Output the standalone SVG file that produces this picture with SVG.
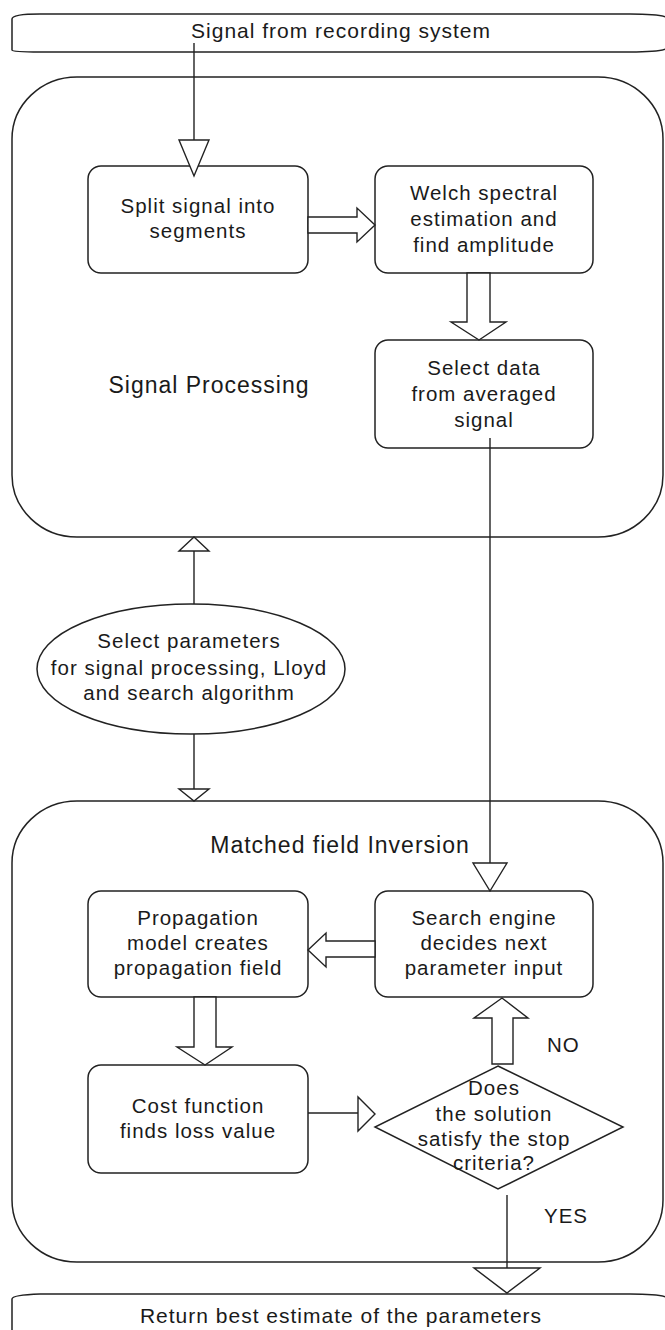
<svg xmlns="http://www.w3.org/2000/svg" width="665" height="1330" viewBox="0 0 665 1330">
<style>
.shape{fill:#fff;stroke:#222;stroke-width:1.5}
.cont{fill:none;stroke:#222;stroke-width:1.5}
.ln{fill:none;stroke:#222;stroke-width:1.4}
.hd{fill:#fff;stroke:#222;stroke-width:1.4}
text{font-family:"Liberation Sans",Arial,sans-serif;font-size:20.5px;fill:#1a1a1a;letter-spacing:1px;text-anchor:middle}
.title{font-size:23px}
.ban{font-size:21px}
.lbl{text-anchor:start}
</style>
<rect width="665" height="1330" fill="#fff"/>
<g id="top-banner">
<path class="shape" d="M12,50 L12,19 Q12,14 40,14 L630,14 Q662,14 668,18 L668,48 Q662,52 630,52 L40,52 Q12,52 12,50 Z"/>
<text class="ban" x="341" y="38">Signal from recording system</text>
</g>
<g id="signal-processing">
<rect class="cont" x="12" y="77" width="651" height="460" rx="65" ry="62"/>
<text class="title" x="209" y="393">Signal Processing</text>
</g>
<g id="matched-field-inversion">
<rect class="cont" x="12" y="801" width="651" height="461" rx="65" ry="62"/>
<text class="title" x="340" y="853">Matched field Inversion</text>
</g>
<g id="split">
<rect class="shape" x="88" y="166" width="220" height="107" rx="13"/>
<text x="198" y="213">Split signal into</text>
<text x="198" y="238">segments</text>
</g>
<g id="welch">
<rect class="shape" x="375" y="166" width="218" height="107" rx="13"/>
<text x="484" y="200">Welch spectral</text>
<text x="484" y="226">estimation and</text>
<text x="484" y="252">find amplitude</text>
</g>
<g id="select-data">
<rect class="shape" x="375" y="340" width="218" height="108" rx="13"/>
<text x="484" y="375">Select data</text>
<text x="484" y="401">from averaged</text>
<text x="484" y="427">signal</text>
</g>
<g id="select-params">
<ellipse class="shape" cx="191" cy="669" rx="154" ry="65"/>
<text x="189" y="648">Select parameters</text>
<text x="189" y="675">for signal processing, Lloyd</text>
<text x="189" y="700">and search algorithm</text>
</g>
<g id="propagation">
<rect class="shape" x="88" y="891" width="220" height="106" rx="13"/>
<text x="198" y="925">Propagation</text>
<text x="198" y="950">model creates</text>
<text x="198" y="975">propagation field</text>
</g>
<g id="search-engine">
<rect class="shape" x="375" y="891" width="218" height="106" rx="13"/>
<text x="484" y="925">Search engine</text>
<text x="484" y="950">decides next</text>
<text x="484" y="975">parameter input</text>
</g>
<g id="cost">
<rect class="shape" x="88" y="1065" width="220" height="108" rx="13"/>
<text x="198" y="1113">Cost function</text>
<text x="198" y="1138">finds loss value</text>
</g>
<g id="decision">
<polygon class="shape" points="498,1066 623,1127 498,1189 375,1127"/>
<text x="494" y="1095">Does</text>
<text x="494" y="1121">the solution</text>
<text x="494" y="1146">satisfy the stop</text>
<text x="494" y="1170">criteria?</text>
</g>
<g id="bottom-banner">
<path class="shape" d="M12,1340 L12,1299 Q12,1295 40,1294 L630,1294 Q662,1294 668,1298 L668,1340 Z"/>
<text class="ban" x="341" y="1323">Return best estimate of the parameters</text>
</g>
<g id="connectors">
<line class="ln" x1="194" y1="43" x2="194" y2="140"/>
<polygon class="hd" points="179,140 209,140 194,176"/>
<polygon class="hd" points="308,217 357,217 357,208 375,225 357,242 357,233 308,233"/>
<polygon class="hd" points="467,273 490,273 490,322 506,322 479,340 451,322 467,322"/>
<line class="ln" x1="490" y1="438" x2="490" y2="863"/>
<polygon class="hd" points="473,863 507,863 490,891"/>
<polygon class="hd" points="179,551 209,551 194,537"/>
<line class="ln" x1="194" y1="551" x2="194" y2="604"/>
<line class="ln" x1="194" y1="734" x2="194" y2="789"/>
<polygon class="hd" points="179,789 209,789 194,801"/>
<polygon class="hd" points="375,941 326,941 326,933 308,950 326,967 326,957 375,957"/>
<polygon class="hd" points="194,997 216,997 216,1047 232,1047 205,1065 177,1047 194,1047"/>
<polygon class="hd" points="492,1064 513,1064 513,1018 528,1018 502,998 474,1018 492,1018"/>
<line class="ln" x1="308" y1="1113" x2="358" y2="1113"/>
<polygon class="hd" points="358,1097 358,1131 375,1114"/>
<line class="ln" x1="507" y1="1195" x2="507" y2="1268"/>
<polygon class="hd" points="474,1268 540,1268 507,1293"/>
<text class="lbl" x="547" y="1052">NO</text>
<text class="lbl" x="544" y="1223">YES</text>
</g>
</svg>
